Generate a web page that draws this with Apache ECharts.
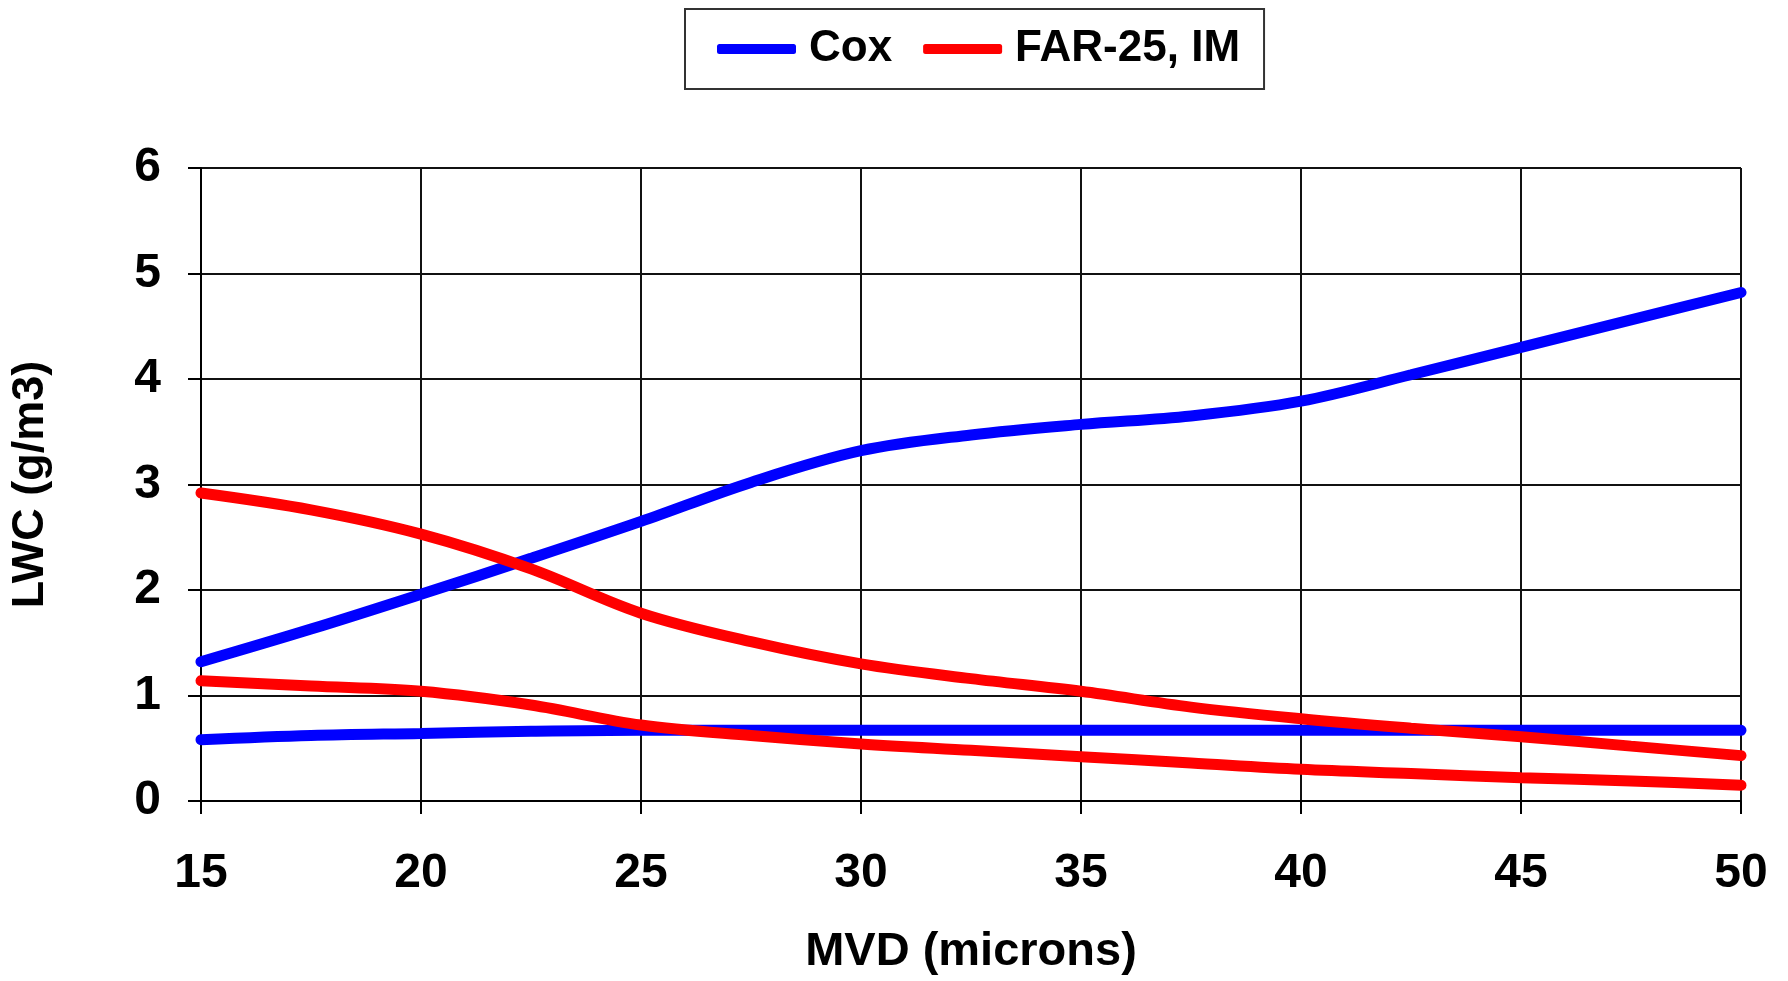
<!DOCTYPE html>
<html>
<head>
<meta charset="utf-8">
<script src="https://cdn.jsdelivr.net/npm/echarts@6/dist/echarts.min.js"></script>
<style>
html,body{margin:0;padding:0;background:#fff;}
#chart{width:1788px;height:981px;}
</style>
</head>
<body>
<div id="chart"></div>
<script>
var mvd = [15, 17.5, 20, 22.5, 25, 27.5, 30, 32.5, 35, 37.5, 40, 42.5, 45, 47.5, 50];
var coxUpper = [1.32, 1.63, 1.96, 2.30, 2.65, 3.02, 3.32, 3.47, 3.57, 3.65, 3.79, 4.04, 4.30, 4.56, 4.82];
var coxLower = [0.58, 0.62, 0.64, 0.66, 0.67, 0.67, 0.67, 0.67, 0.67, 0.67, 0.67, 0.67, 0.67, 0.67, 0.67];
var farUpper = [2.92, 2.76, 2.53, 2.20, 1.78, 1.51, 1.30, 1.16, 1.04, 0.89, 0.78, 0.69, 0.61, 0.52, 0.43];
var farLower = [1.14, 1.09, 1.04, 0.91, 0.72, 0.62, 0.54, 0.48, 0.42, 0.36, 0.30, 0.26, 0.22, 0.19, 0.15];
var yTicks = [0, 1, 2, 3, 4, 5, 6];

function pairs(ys){ return mvd.map(function(x,i){ return [x, ys[i]]; }); }

var FONT = '"Liberation Sans", Arial, sans-serif';
var chart = echarts.init(document.getElementById('chart'), null, {renderer:'canvas'});
function mkSeries(name, color, ys){
  return {
    name: name, type: 'line', data: pairs(ys), smooth: 0.35, showSymbol: false, symbol: 'none',
    lineStyle: {color: color, width: 11, cap: 'round'}, itemStyle: {color: color}, z: 3
  };
}
chart.setOption({
  animation: false,
  backgroundColor: '#fff',
  legend: {
    top: 9, left: 685,
    padding: [18, 24, 18, 32],
    borderColor: '#333', borderWidth: 2,
    itemWidth: 79, itemHeight: 10, itemGap: 31,
    icon: 'roundRect',
    textStyle: {fontFamily: FONT, fontWeight: 'bold', fontSize: 44, color: '#000', padding: [0,0,0,8]},
    data: ['Cox', 'FAR-25, IM']
  },
  grid: {left: 198, right: 47, top: 168, bottom: 179, containLabel: false},
  xAxis: {
    type: 'value', min: 15, max: 50, interval: 5,
    name: 'MVD (microns)', nameLocation: 'middle', nameGap: 128,
    nameTextStyle: {fontFamily: FONT, fontWeight: 'bold', fontSize: 47, color: '#000'},
    axisLine: {show: true, lineStyle: {color: '#000', width: 2}},
    axisTick: {show: true, length: 13, lineStyle: {color: '#000', width: 2}},
    axisLabel: {fontFamily: FONT, fontWeight: 'bold', fontSize: 48, color: '#000', margin: 49},
    splitLine: {show: true, lineStyle: {color: '#111', width: 2}}
  },
  yAxis: {
    type: 'value', min: 0, max: 6, interval: 1,
    name: 'LWC (g/m3)', nameLocation: 'middle', nameGap: 148, nameRotate: 90,
    nameTextStyle: {fontFamily: FONT, fontWeight: 'bold', fontSize: 45, color: '#000'},
    axisLine: {show: true, lineStyle: {color: '#000', width: 2}},
    axisTick: {show: true, length: 13, lineStyle: {color: '#000', width: 2}},
    axisLabel: {fontFamily: FONT, fontWeight: 'bold', fontSize: 48, color: '#000', margin: 40,
      formatter: function(v){ return yTicks.indexOf(v) >= 0 ? String(v) : ''; }},
    splitLine: {show: true, lineStyle: {color: '#111', width: 2}}
  },
  series: [
    mkSeries('Cox', '#0000ff', coxUpper),
    mkSeries('Cox', '#0000ff', coxLower),
    mkSeries('FAR-25, IM', '#ff0000', farUpper),
    mkSeries('FAR-25, IM', '#ff0000', farLower)
  ]
});
</script>
</body>
</html>
